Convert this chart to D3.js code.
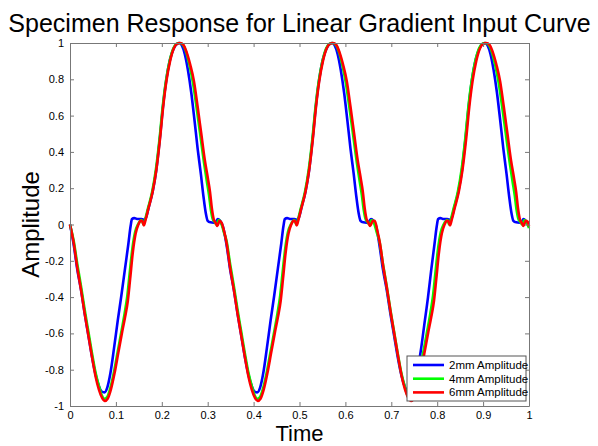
<!DOCTYPE html>
<html>
<head>
<meta charset="utf-8">
<script src="https://cdn.jsdelivr.net/npm/d3@7"></script>
<style>
  body { margin: 0; background: #fff; }
  svg { font-family: "Liberation Sans", Arial, sans-serif; }
</style>
</head>
<body>
<div id="chart"></div>
<script>
// series names
var seriesNames = ["2mm Amplitude", "4mm Amplitude", "6mm Amplitude"];
var seriesColors = ["#0000ff", "#00ff00", "#ff0000"];

var xTicks = [0, 0.1, 0.2, 0.3, 0.4, 0.5, 0.6, 0.7, 0.8, 0.9, 1];
var yTicks = [-1, -0.8, -0.6, -0.4, -0.2, 0, 0.2, 0.4, 0.6, 0.8, 1];

// 2mm amplitude [time, amplitude]
var blue = [
  [0.000,0.00],[0.008,-0.11],[0.016,-0.25],[0.024,-0.36],[0.032,-0.49],[0.040,-0.61],[0.048,-0.73],[0.056,-0.83],[0.063,-0.89],[0.069,-0.92],[0.075,-0.925],[0.081,-0.90],[0.088,-0.82],[0.096,-0.68],[0.104,-0.53],[0.112,-0.39],[0.120,-0.24],[0.127,-0.11],[0.132,-0.01],[0.135,0.03],[0.140,0.035],[0.148,0.03],[0.156,0.03],[0.162,0.025],[0.166,0.04],[0.172,0.10],[0.180,0.18],[0.188,0.30],[0.196,0.48],[0.203,0.66],[0.210,0.80],[0.218,0.91],[0.226,0.97],[0.233,0.995],[0.238,1.00],[0.244,0.985],[0.250,0.94],[0.257,0.85],[0.264,0.73],[0.271,0.58],[0.278,0.42],[0.285,0.28],[0.291,0.15],[0.296,0.06],[0.300,0.02],[0.306,0.012],[0.313,0.01],[0.318,0.015],[0.322,0.03],[0.327,0.02],[0.333,-0.01],
  [0.341,-0.11],[0.349,-0.25],[0.357,-0.36],[0.365,-0.49],[0.373,-0.61],[0.381,-0.73],[0.389,-0.83],[0.396,-0.89],[0.402,-0.92],[0.408,-0.925],[0.414,-0.90],[0.421,-0.82],[0.429,-0.68],[0.437,-0.53],[0.445,-0.39],[0.453,-0.24],[0.460,-0.11],[0.465,-0.01],[0.468,0.03],[0.473,0.035],[0.481,0.03],[0.489,0.03],[0.495,0.025],[0.499,0.04],[0.505,0.10],[0.513,0.18],[0.521,0.30],[0.529,0.48],[0.536,0.66],[0.543,0.80],[0.551,0.91],[0.559,0.97],[0.566,0.995],[0.571,1.00],[0.577,0.985],[0.583,0.94],[0.590,0.85],[0.597,0.73],[0.604,0.58],[0.611,0.42],[0.618,0.28],[0.624,0.15],[0.629,0.06],[0.633,0.02],[0.639,0.012],[0.646,0.01],[0.651,0.015],[0.656,0.03],[0.661,0.02],[0.667,-0.01],
  [0.674,-0.11],[0.682,-0.25],[0.690,-0.36],[0.698,-0.49],[0.706,-0.61],[0.714,-0.73],[0.722,-0.83],[0.729,-0.89],[0.735,-0.92],[0.741,-0.925],[0.748,-0.90],[0.756,-0.82],[0.764,-0.70],[0.772,-0.55],[0.780,-0.40],[0.787,-0.25],[0.794,-0.11],[0.799,-0.01],[0.802,0.03],[0.807,0.035],[0.814,0.03],[0.822,0.03],[0.828,0.025],[0.832,0.04],[0.838,0.10],[0.846,0.18],[0.854,0.30],[0.862,0.48],[0.869,0.66],[0.876,0.80],[0.884,0.91],[0.892,0.97],[0.899,0.995],[0.904,1.00],[0.910,0.985],[0.916,0.94],[0.923,0.85],[0.930,0.73],[0.937,0.58],[0.944,0.42],[0.951,0.28],[0.957,0.15],[0.962,0.06],[0.966,0.02],[0.972,0.012],[0.979,0.01],[0.984,0.015],[0.988,0.03],[0.993,0.02],[1.000,-0.01]
];

// 4mm amplitude
var green = [
  [0.000,0.00],[0.008,-0.09],[0.016,-0.22],[0.024,-0.34],[0.032,-0.47],[0.040,-0.59],[0.048,-0.71],[0.056,-0.82],[0.063,-0.89],[0.069,-0.94],[0.075,-0.96],[0.081,-0.95],[0.088,-0.90],[0.096,-0.81],[0.104,-0.70],[0.112,-0.59],[0.119,-0.49],[0.125,-0.39],[0.130,-0.27],[0.136,-0.13],[0.142,-0.04],[0.148,0.00],[0.153,0.02],[0.156,0.025],[0.160,0.00],[0.164,0.03],[0.170,0.09],[0.179,0.18],[0.187,0.30],[0.195,0.47],[0.202,0.65],[0.209,0.79],[0.217,0.90],[0.225,0.97],[0.232,0.995],[0.239,1.00],[0.246,0.99],[0.253,0.95],[0.261,0.87],[0.268,0.78],[0.276,0.64],[0.284,0.49],[0.292,0.34],[0.298,0.24],[0.303,0.16],[0.307,0.08],[0.311,0.03],[0.315,0.015],[0.319,0.00],[0.324,0.025],[0.329,0.01],[0.335,-0.04],
  [0.341,-0.09],[0.349,-0.22],[0.357,-0.34],[0.365,-0.47],[0.373,-0.59],[0.381,-0.71],[0.389,-0.82],[0.396,-0.89],[0.402,-0.94],[0.408,-0.96],[0.414,-0.95],[0.421,-0.90],[0.429,-0.81],[0.437,-0.70],[0.445,-0.59],[0.452,-0.49],[0.458,-0.39],[0.463,-0.27],[0.469,-0.13],[0.475,-0.04],[0.481,0.00],[0.486,0.02],[0.489,0.025],[0.493,0.00],[0.497,0.03],[0.503,0.09],[0.512,0.18],[0.520,0.30],[0.528,0.47],[0.535,0.65],[0.542,0.79],[0.550,0.90],[0.558,0.97],[0.565,0.995],[0.572,1.00],[0.579,0.99],[0.586,0.95],[0.594,0.87],[0.601,0.78],[0.609,0.64],[0.617,0.49],[0.625,0.34],[0.631,0.24],[0.636,0.16],[0.640,0.08],[0.644,0.03],[0.648,0.015],[0.652,0.00],[0.657,0.025],[0.662,0.01],[0.668,-0.04],
  [0.674,-0.09],[0.682,-0.22],[0.690,-0.34],[0.698,-0.47],[0.706,-0.59],[0.714,-0.71],[0.722,-0.82],[0.729,-0.89],[0.735,-0.94],[0.741,-0.96],[0.747,-0.95],[0.754,-0.90],[0.762,-0.81],[0.770,-0.70],[0.778,-0.59],[0.785,-0.49],[0.791,-0.39],[0.796,-0.27],[0.802,-0.13],[0.808,-0.04],[0.814,0.00],[0.819,0.02],[0.822,0.025],[0.826,0.00],[0.830,0.03],[0.836,0.09],[0.845,0.18],[0.853,0.30],[0.861,0.47],[0.868,0.65],[0.875,0.79],[0.883,0.90],[0.891,0.97],[0.898,0.995],[0.905,1.00],[0.912,0.99],[0.919,0.95],[0.927,0.87],[0.934,0.78],[0.942,0.64],[0.950,0.49],[0.958,0.34],[0.964,0.24],[0.969,0.16],[0.973,0.08],[0.977,0.03],[0.981,0.015],[0.985,0.00],[0.990,0.025],[0.995,0.01],[1.000,-0.02]
];

// 6mm amplitude
var red = [
  [0.000,0.00],[0.008,-0.10],[0.016,-0.24],[0.024,-0.36],[0.032,-0.49],[0.040,-0.61],[0.048,-0.73],[0.056,-0.84],[0.063,-0.91],[0.070,-0.955],[0.076,-0.972],[0.082,-0.96],[0.089,-0.91],[0.097,-0.82],[0.105,-0.71],[0.113,-0.60],[0.120,-0.51],[0.126,-0.42],[0.131,-0.30],[0.137,-0.15],[0.143,-0.05],[0.149,0.00],[0.154,0.02],[0.157,0.02],[0.161,-0.005],[0.165,0.03],[0.171,0.09],[0.180,0.18],[0.188,0.30],[0.196,0.47],[0.203,0.65],[0.210,0.79],[0.218,0.90],[0.226,0.97],[0.233,0.995],[0.240,1.00],[0.247,0.99],[0.254,0.95],[0.262,0.88],[0.270,0.79],[0.278,0.65],[0.286,0.50],[0.294,0.35],[0.300,0.26],[0.305,0.18],[0.309,0.09],[0.313,0.03],[0.317,0.01],[0.321,-0.008],[0.326,0.02],[0.330,0.01],[0.336,-0.04],
  [0.341,-0.10],[0.349,-0.24],[0.357,-0.36],[0.365,-0.49],[0.373,-0.61],[0.381,-0.73],[0.389,-0.84],[0.396,-0.91],[0.403,-0.955],[0.409,-0.972],[0.415,-0.96],[0.422,-0.91],[0.430,-0.82],[0.438,-0.71],[0.446,-0.60],[0.453,-0.51],[0.459,-0.42],[0.464,-0.30],[0.470,-0.15],[0.476,-0.05],[0.482,0.00],[0.487,0.02],[0.490,0.02],[0.494,-0.005],[0.498,0.03],[0.504,0.09],[0.513,0.18],[0.521,0.30],[0.529,0.47],[0.536,0.65],[0.543,0.79],[0.551,0.90],[0.559,0.97],[0.566,0.995],[0.573,1.00],[0.580,0.99],[0.587,0.95],[0.595,0.88],[0.603,0.79],[0.611,0.65],[0.619,0.50],[0.627,0.35],[0.633,0.26],[0.638,0.18],[0.642,0.09],[0.646,0.03],[0.650,0.01],[0.654,-0.008],[0.660,0.02],[0.664,0.02],[0.670,-0.04],
  [0.675,-0.10],[0.683,-0.24],[0.691,-0.36],[0.699,-0.49],[0.707,-0.61],[0.715,-0.73],[0.723,-0.84],[0.730,-0.91],[0.737,-0.955],[0.743,-0.972],[0.749,-0.96],[0.756,-0.91],[0.764,-0.82],[0.772,-0.71],[0.780,-0.60],[0.787,-0.51],[0.793,-0.42],[0.798,-0.30],[0.804,-0.15],[0.810,-0.05],[0.816,0.00],[0.821,0.02],[0.824,0.02],[0.828,-0.005],[0.832,0.03],[0.838,0.09],[0.847,0.18],[0.855,0.30],[0.863,0.47],[0.870,0.65],[0.877,0.79],[0.885,0.90],[0.893,0.97],[0.900,0.995],[0.907,1.00],[0.914,0.99],[0.921,0.95],[0.929,0.88],[0.937,0.79],[0.945,0.65],[0.953,0.50],[0.961,0.35],[0.967,0.26],[0.972,0.18],[0.976,0.09],[0.980,0.03],[0.984,0.01],[0.988,-0.008],[0.993,0.02],[0.997,0.015],[1.000,-0.01]
];

var allSeries = [blue, green, red];

var W = 598, H = 446;
var margin = {left: 70, top: 43, right: 69, bottom: 40};
var pw = W - margin.left - margin.right;   // 459
var ph = H - margin.top - margin.bottom;   // 363

var svg = d3.select("#chart").append("svg")
    .attr("width", W)
    .attr("height", H);

var x = d3.scaleLinear().domain([0, 1]).range([margin.left, margin.left + pw]);
var y = d3.scaleLinear().domain([-1, 1]).range([margin.top + ph, margin.top]);

// title
svg.append("text")
    .attr("x", margin.left + pw / 2)
    .attr("y", 32)
    .attr("text-anchor", "middle")
    .attr("font-size", "25px")
    .text("Specimen Response for Linear Gradient Input Curve");

// lines
var line = d3.line()
    .x(function(d){ return x(d[0]); })
    .y(function(d){ return y(d[1]); })
    .curve(d3.curveMonotoneX);

var plot = svg.append("g");
allSeries.forEach(function(s, i){
    plot.append("path")
        .datum(s)
        .attr("fill", "none")
        .attr("stroke", seriesColors[i])
        .attr("stroke-width", 2.6)
        .attr("stroke-linejoin", "round")
        .attr("d", line);
});

// axes, MATLAB style with inward ticks on all sides
var axisColor = "#777";
var tickLen = 4;

var xb = svg.append("g")
    .attr("transform", "translate(0," + (margin.top + ph) + ")")
    .call(d3.axisBottom(x).tickValues(xTicks).tickSizeInner(-tickLen).tickSizeOuter(0).tickPadding(5)
        .tickFormat(d3.format("")));
var xt = svg.append("g")
    .attr("transform", "translate(0," + margin.top + ")")
    .call(d3.axisTop(x).tickValues(xTicks).tickSizeInner(-tickLen).tickSizeOuter(0).tickFormat(""));
var yl = svg.append("g")
    .attr("transform", "translate(" + margin.left + ",0)")
    .call(d3.axisLeft(y).tickValues(yTicks).tickSizeInner(-tickLen).tickSizeOuter(0).tickPadding(6)
        .tickFormat(d3.format("")));
var yr = svg.append("g")
    .attr("transform", "translate(" + (margin.left + pw) + ",0)")
    .call(d3.axisRight(y).tickValues(yTicks).tickSizeInner(-tickLen).tickSizeOuter(0).tickFormat(""));

[xb, xt, yl, yr].forEach(function(g){
    g.selectAll("path, line").attr("stroke", axisColor);
    g.selectAll("text").attr("fill", "#000").attr("font-size", "11px")
        .attr("font-family", "Liberation Sans, Arial, sans-serif");
});
// plain hyphen minus like the original
yl.selectAll("text").text(function(d){ return String(d); });

// axis labels
svg.append("text")
    .attr("x", margin.left + pw / 2)
    .attr("y", 441)
    .attr("text-anchor", "middle")
    .attr("font-size", "22px")
    .text("Time");

svg.append("text")
    .attr("transform", "translate(39," + (margin.top + ph / 2) + ") rotate(-90)")
    .attr("text-anchor", "middle")
    .attr("font-size", "24px")
    .text("Amplitude");

// legend
var lg = svg.append("g").attr("transform", "translate(407,356)");
lg.append("rect")
    .attr("width", 119)
    .attr("height", 45)
    .attr("fill", "#fff")
    .attr("stroke", "#555")
    .attr("stroke-width", 1);

seriesNames.forEach(function(name, i){
    var yy = 9 + i * 13.7;
    lg.append("line")
        .attr("x1", 6).attr("x2", 37)
        .attr("y1", yy).attr("y2", yy)
        .attr("stroke", seriesColors[i])
        .attr("stroke-width", 2.6);
    lg.append("text")
        .attr("x", 42)
        .attr("y", yy + 4)
        .attr("font-size", "11.5px")
        .text(name);
});
</script>
</body>
</html>
